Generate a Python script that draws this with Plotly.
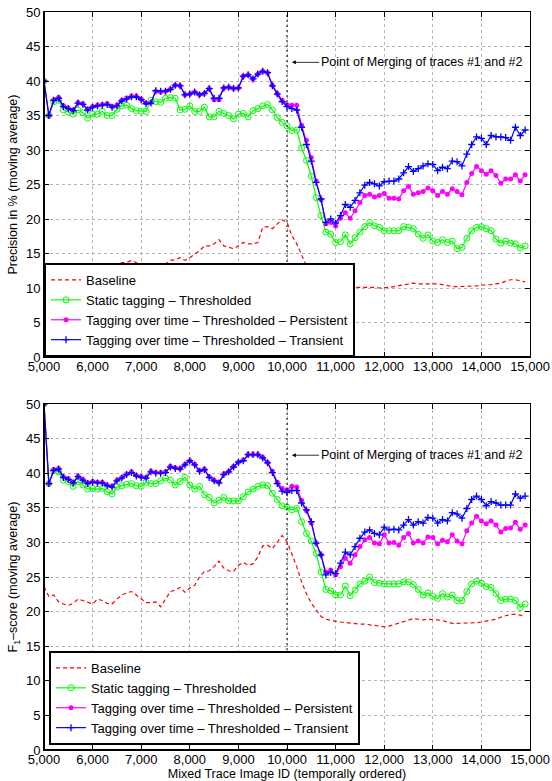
import plotly.graph_objects as go

# ---------------- data ----------------
image_id = list(range(5000, 15000, 100))  # 100 points

prec_baseline = [13.2, 13.6, 12.9, 12.8, 12.6, 12.7, 12.9, 13.1, 13.1, 12.9,
                 12.9, 13.5, 13.5, 13.1, 12.9, 13.2, 13.7, 13.7, 14.0, 13.7,
                 13.3, 13.0, 13.1, 13.0, 12.7, 13.5, 14.0, 14.1, 14.4, 14.0,
                 14.4, 14.9, 15.4, 16.1, 16.1, 16.4, 17.0, 16.1, 15.9, 15.7,
                 16.1, 16.6, 16.4, 16.4, 16.6, 18.8, 18.9, 18.6, 19.3, 19.9,
                 19.5, 17.6, 16.4, 14.7, 13.2, 12.3, 11.3, 10.7, 10.5, 10.4,
                 10.3, 10.3, 10.3, 10.2, 10.1, 10.1, 10.2, 10.1, 10.1, 10.0,
                 10.0, 10.1, 10.2, 10.3, 10.5, 10.6, 10.7, 10.6, 10.6, 10.7,
                 10.7, 10.6, 10.5, 10.3, 10.2, 10.2, 10.2, 10.2, 10.2, 10.3,
                 10.4, 10.4, 10.5, 10.6, 10.7, 11.0, 11.2, 11.2, 11.1, 10.9]

prec_static = [40.0, 35.0, 37.0, 37.2, 35.8, 35.5, 35.2, 35.8, 35.4, 34.6,
               35.2, 35.2, 35.6, 35.0, 35.0, 35.9, 36.4, 36.5, 36.0, 35.7,
               35.6, 35.6, 37.2, 37.0, 36.9, 37.5, 37.6, 37.5, 35.8, 35.9,
               36.4, 35.6, 35.6, 36.2, 34.8, 34.8, 35.6, 35.3, 35.0, 34.5,
               35.2, 35.3, 34.8, 35.7, 36.0, 36.4, 36.6, 35.8, 34.7, 34.0,
               33.5, 32.8, 32.9, 30.3, 28.5, 26.2, 23.1, 20.5, 18.1, 17.8,
               16.6, 16.7, 17.7, 16.4, 17.3, 18.1, 18.9, 19.5, 19.0, 18.8,
               18.3, 18.3, 18.3, 18.3, 18.9, 18.8, 18.6, 17.8, 17.2, 17.7,
               16.8, 16.6, 17.0, 16.6, 16.8, 15.7, 15.9, 17.2, 18.3, 18.8,
               18.9, 18.6, 18.3, 17.1, 16.5, 16.8, 16.5, 16.4, 15.8, 16.1]

prec_persistent = [40.0, 35.0, 37.3, 37.6, 36.4, 36.1, 35.8, 36.9, 36.7, 35.9,
                   36.3, 36.5, 36.6, 36.7, 36.3, 36.5, 37.2, 37.5, 37.8, 37.8,
                   37.4, 36.8, 36.9, 38.5, 38.4, 38.5, 38.8, 39.4, 39.3, 38.0,
                   38.1, 38.4, 38.0, 38.2, 38.9, 37.3, 37.3, 39.0, 39.1, 38.9,
                   39.0, 40.7, 40.9, 40.3, 41.0, 41.4, 41.2, 39.4, 38.2, 37.2,
                   36.6, 36.5, 36.5, 33.6, 31.4, 28.9, 25.5, 22.8, 19.3, 19.5,
                   19.0, 20.1, 20.9, 20.1, 21.2, 22.4, 23.4, 23.6, 23.2, 23.4,
                   23.7, 23.0, 23.0, 22.9, 24.1, 24.7, 23.6, 23.8, 24.0, 24.5,
                   24.1, 23.4, 24.0, 23.6, 24.4, 24.0, 23.5, 25.3, 26.6, 27.6,
                   27.0, 26.5, 27.0, 26.3, 25.2, 25.8, 25.8, 26.4, 25.5, 26.4]

prec_transient = [40.0, 35.0, 37.2, 37.5, 36.3, 36.0, 35.7, 36.8, 36.6, 35.8,
                  36.2, 36.4, 36.5, 36.6, 36.2, 36.4, 37.1, 37.4, 37.7, 37.7,
                  37.3, 36.7, 36.8, 38.6, 38.5, 38.5, 38.8, 39.4, 39.3, 38.0,
                  38.1, 38.4, 38.0, 38.2, 38.9, 37.5, 37.5, 39.0, 39.1, 38.9,
                  39.0, 40.7, 40.9, 40.3, 41.0, 41.4, 41.2, 39.3, 38.1, 37.0,
                  36.3, 36.0, 35.8, 33.3, 30.8, 28.4, 25.3, 22.9, 19.5, 20.0,
                  19.4, 20.5, 22.1, 21.7, 22.7, 23.8, 24.9, 25.3, 25.1, 24.8,
                  25.4, 25.5, 25.5, 25.8, 26.7, 27.6, 26.9, 27.3, 27.7, 28.0,
                  27.9, 27.0, 27.5, 27.3, 28.4, 28.3, 27.7, 29.4, 30.8, 31.9,
                  31.7, 30.8, 32.1, 31.9, 31.9, 31.8, 31.4, 33.3, 32.1, 32.9]

f1_baseline = [23.6, 22.2, 22.4, 21.4, 21.1, 20.9, 21.2, 21.8, 21.6, 21.3,
               21.1, 21.8, 21.6, 21.2, 21.1, 21.8, 22.4, 22.7, 22.9, 22.4,
               21.8, 21.3, 21.3, 21.4, 20.7, 21.9, 22.9, 23.1, 23.5, 22.8,
               23.4, 23.8, 25.0, 25.8, 25.9, 26.5, 27.3, 26.3, 25.9, 25.8,
               26.7, 27.1, 26.7, 26.9, 27.9, 29.5, 29.6, 29.1, 30.1, 31.0,
               30.1, 28.4, 26.5, 24.3, 22.6, 21.2, 20.2, 19.3, 18.9, 18.7,
               18.6, 18.5, 18.4, 18.3, 18.2, 18.2, 18.2, 18.1, 17.9, 17.8,
               17.8, 17.9, 18.1, 18.3, 18.6, 18.8, 19.0, 18.9, 18.8, 18.9,
               18.9, 18.8, 18.7, 18.5, 18.3, 18.3, 18.3, 18.3, 18.3, 18.4,
               18.5, 18.6, 18.7, 18.9, 19.2, 19.4, 19.6, 19.6, 19.5, 19.2]

f1_static = [50.0, 38.5, 40.4, 40.2, 39.0, 38.8, 38.1, 38.8, 38.3, 37.7,
             37.8, 37.7, 37.8, 37.3, 37.0, 38.0, 38.2, 38.4, 38.5, 38.2,
             38.1, 38.7, 38.5, 38.5, 38.9, 39.3, 39.0, 38.3, 38.8, 39.4,
             38.3, 37.7, 38.1, 36.9, 36.5, 35.7, 36.1, 36.5, 36.0, 36.0,
             36.0, 36.6, 37.3, 37.7, 38.1, 38.3, 38.2, 37.1, 36.2, 35.3,
             35.1, 34.7, 34.9, 33.0, 31.3, 30.2, 28.4, 25.7, 23.2, 23.0,
             22.4, 22.4, 23.7, 22.3, 23.1, 24.0, 24.4, 25.0, 24.2, 24.1,
             24.0, 24.0, 24.0, 24.0, 24.3, 24.3, 23.9, 23.2, 22.4, 22.7,
             22.2, 21.9, 22.6, 22.1, 22.4, 21.6, 21.6, 22.9, 24.0, 24.4,
             24.1, 23.6, 23.5, 22.6, 21.6, 21.8, 21.8, 21.6, 20.6, 21.1]

f1_persistent = [50.0, 38.5, 40.5, 40.7, 39.5, 39.2, 38.7, 39.6, 39.1, 38.6,
                 38.8, 38.7, 38.7, 38.3, 38.1, 39.0, 39.4, 39.9, 40.2, 39.7,
                 39.5, 39.4, 40.3, 40.1, 40.1, 40.2, 41.0, 40.8, 40.7, 41.3,
                 41.8, 41.3, 40.4, 40.6, 39.5, 39.0, 38.7, 39.9, 40.3, 41.0,
                 41.6, 41.9, 42.7, 42.7, 42.7, 42.3, 41.6, 40.3, 38.7, 37.8,
                 37.6, 38.1, 38.0, 36.1, 34.6, 32.8, 29.9, 28.2, 25.7, 26.0,
                 25.3, 26.5, 27.7, 27.0, 28.2, 29.4, 30.4, 30.7, 29.9, 29.8,
                 31.1, 29.9, 30.0, 29.6, 30.7, 31.3, 29.9, 30.2, 29.9, 30.8,
                 30.7, 29.8, 30.3, 30.1, 31.1, 30.2, 29.8, 31.7, 32.8, 33.8,
                 33.1, 32.7, 33.1, 32.5, 31.5, 32.0, 32.1, 32.9, 31.9, 32.5]

f1_transient = [50.0, 38.5, 40.4, 40.6, 39.4, 39.1, 38.6, 39.5, 39.0, 38.5,
                38.7, 38.6, 38.6, 38.2, 38.0, 38.9, 39.3, 39.8, 40.1, 39.6,
                39.4, 39.3, 40.2, 40.0, 40.0, 40.1, 40.9, 40.7, 40.6, 41.2,
                41.8, 41.2, 40.3, 40.5, 39.4, 38.9, 38.6, 39.8, 40.2, 40.9,
                41.6, 41.8, 42.7, 42.7, 42.7, 42.2, 41.5, 40.1, 38.5, 37.4,
                37.2, 37.5, 37.5, 35.7, 34.7, 33.0, 29.9, 28.2, 25.3, 25.7,
                25.5, 27.0, 28.6, 28.2, 29.4, 30.6, 31.5, 31.8, 31.3, 31.1,
                32.2, 31.8, 31.9, 31.8, 32.5, 33.3, 32.5, 33.0, 32.8, 33.6,
                33.5, 32.8, 33.3, 33.1, 34.3, 34.1, 33.5, 34.9, 36.2, 36.7,
                36.2, 35.3, 35.9, 35.7, 35.4, 35.4, 35.4, 37.0, 36.4, 36.7]

series_names = ["Baseline",
                "Static tagging \u2013 Thresholded",
                "Tagging over time \u2013 Thresholded \u2013 Persistent",
                "Tagging over time \u2013 Thresholded \u2013 Transient"]

x_ticks = list(range(5000, 15001, 1000))
y_ticks = list(range(0, 51, 5))
merge_id = 10000
annotation_text = "Point of Merging of traces #1 and #2"

# ---------------- figure ----------------
FONT = "Liberation Sans, Arial, Helvetica, sans-serif"
fig = go.Figure()

def add_panel(vals, xa, ya, leg):
    base, static, pers, trans = vals
    fig.add_trace(go.Scatter(x=image_id, y=base, name=series_names[0], mode="lines",
                             line=dict(color="#FF0000", width=1.2, dash="4px,3px"),
                             xaxis=xa, yaxis=ya, legend=leg))
    fig.add_trace(go.Scatter(x=image_id, y=static, name=series_names[1], mode="lines+markers",
                             line=dict(color="#00FF00", width=1.2),
                             marker=dict(symbol="circle-open", size=6, color="#00FF00",
                                         line=dict(width=1, color="#00FF00")),
                             xaxis=xa, yaxis=ya, legend=leg))
    fig.add_trace(go.Scatter(x=image_id, y=pers, name=series_names[2], mode="lines+markers",
                             line=dict(color="#FF00FF", width=1.2),
                             marker=dict(symbol="circle", size=5, color="#FF00FF"),
                             xaxis=xa, yaxis=ya, legend=leg))
    fig.add_trace(go.Scatter(x=image_id, y=trans, name=series_names[3], mode="lines+markers",
                             line=dict(color="#0000FF", width=1.2),
                             marker=dict(symbol="cross-thin", size=5, color="#0000FF",
                                         line=dict(width=1.3, color="#0000FF")),
                             xaxis=xa, yaxis=ya, legend=leg))

add_panel((prec_baseline, prec_static, prec_persistent, prec_transient), "x", "y", "legend")
add_panel((f1_baseline, f1_static, f1_persistent, f1_transient), "x2", "y2", "legend2")

top_dom = [0.5325, 1.0]
bot_dom = [0.0, 0.4688]

axis_common = dict(showline=True, linecolor="black", linewidth=1, mirror="allticks",
                   ticks="inside", ticklen=5, tickcolor="black",
                   showgrid=True, gridcolor="#b4b4b4", griddash="dot", gridwidth=1,
                   zeroline=False, automargin=False,
                   tickfont=dict(family=FONT, size=13, color="black"))

xcommon = dict(axis_common, range=[5000, 15000], tickvals=x_ticks, tickformat=",d",
               ticklabelstandoff=-3)
ycommon = dict(axis_common, range=[0, 50], tickvals=y_ticks)

fig.update_layout(
    width=552, height=781,
    margin=dict(l=44, r=22, t=12, b=31),
    paper_bgcolor="white", plot_bgcolor="white",
    font=dict(family=FONT, size=13, color="black"),
    xaxis=dict(xcommon, domain=[0, 1], anchor="y"),
    yaxis=dict(ycommon, domain=top_dom, anchor="x",
               title=dict(text="Precision in % (moving average)", standoff=5,
                          font=dict(family=FONT, size=12.5))),
    xaxis2=dict(xcommon, domain=[0, 1], anchor="y2",
                title=dict(text="Mixed Trace Image ID (temporally ordered)", standoff=3,
                           font=dict(family=FONT, size=12.5))),
    yaxis2=dict(ycommon, domain=bot_dom, anchor="x2",
                title=dict(text="F<sub>1</sub>\u2013score (moving average)", standoff=5,
                           font=dict(family=FONT, size=12.5))),
    legend=dict(x=0, y=top_dom[0], xanchor="left", yanchor="bottom",
                bgcolor="white", bordercolor="black", borderwidth=2,
                font=dict(family=FONT, size=13), tracegroupgap=0, itemwidth=30),
    legend2=dict(x=0.0103, y=0.0068, xanchor="left", yanchor="bottom",
                 bgcolor="white", bordercolor="black", borderwidth=2,
                 font=dict(family=FONT, size=13), tracegroupgap=0, itemwidth=30),
    showlegend=True,
)

shapes = []
for xa, ya in (("x", "y"), ("x2", "y2")):
    shapes.append(dict(type="line", xref=xa, yref=ya + " domain", x0=merge_id, x1=merge_id,
                       y0=0, y1=1, line=dict(color="black", width=1, dash="2px,3px")))
    shapes.append(dict(type="line", xref=xa + " domain", yref=ya + " domain", x0=0, x1=0,
                       y0=0, y1=1, line=dict(color="black", width=2)))
    shapes.append(dict(type="line", xref=xa + " domain", yref=ya + " domain", x0=0, x1=1,
                       y0=0, y1=0, line=dict(color="black", width=2)))
fig.update_layout(shapes=shapes)

for xa, ya, yv in (("x", "y", 42.7), ("x2", "y2", 42.6)):
    fig.add_annotation(x=merge_id + 100, y=yv, xref=xa, yref=ya,
                       ax=10660, ay=yv, axref=xa, ayref=ya,
                       text=annotation_text, showarrow=True, xanchor="left",
                       arrowhead=2, arrowsize=1, arrowwidth=0.8, arrowcolor="black",
                       font=dict(family=FONT, size=12.5, color="black"))

fig.write_html("out.html",
               config={"displayModeBar": False},
               post_script="document.body.style.margin='0';document.body.style.overflow='hidden';")
